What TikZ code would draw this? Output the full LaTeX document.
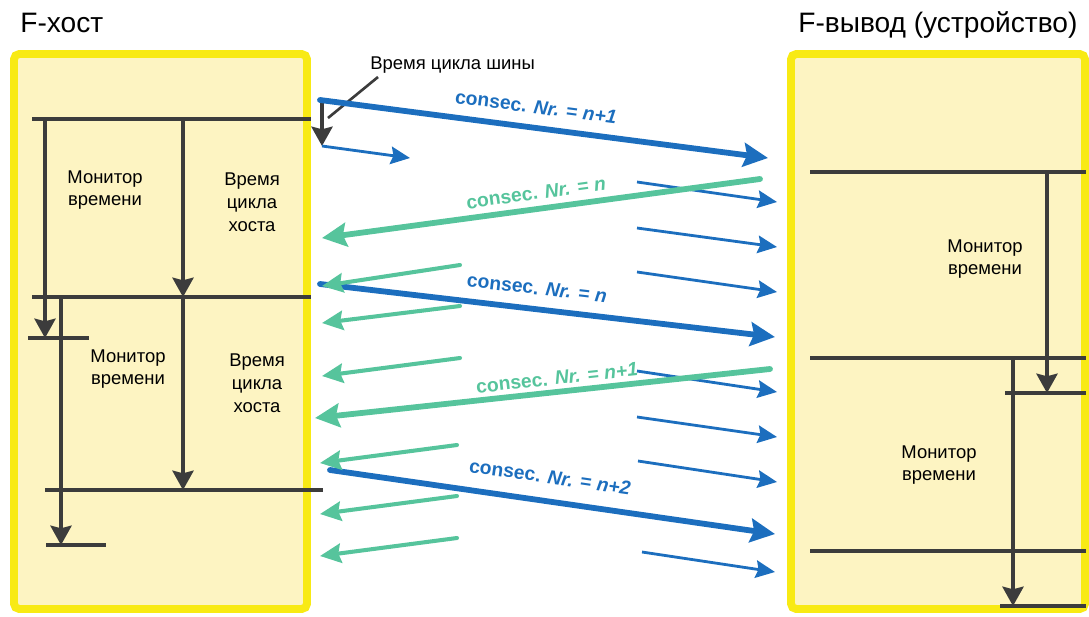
\documentclass[tikz,border=0pt]{standalone}
\usepackage{fontspec}
\setmainfont{Liberation Sans}
\usetikzlibrary{arrows.meta, positioning}
\definecolor{cBus}{RGB}{28,110,190}
\definecolor{cAck}{RGB}{86,196,156}
\definecolor{cLine}{RGB}{60,60,60}
\definecolor{cBoxFill}{RGB}{253,244,194}
\definecolor{cBoxEdge}{RGB}{248,234,20}
\tikzset{
	devbox/.style  ={draw=cBoxEdge, fill=cBoxFill, line width=4.5pt, rounded corners=3pt},
	tline/.style   ={cLine, line width=2.1pt},
	tarrow/.style  ={cLine, line width=2.1pt, -{Stealth[length=11pt, width=12pt, inset=1.5pt]}},
	pointer/.style ={cLine, line width=1.5pt},
	% message arrows
	busthick/.style={cBus, line width=3.3pt, line cap=round, -{Stealth[length=14pt, width=13.5pt, inset=2pt]}},
	busthin/.style ={cBus, line width=1.6pt, -{Stealth[length=11pt, width=10pt, inset=1.5pt]}},
	ackthick/.style={cAck, line width=3.3pt, line cap=round, -{Stealth[length=14pt, width=13.5pt, inset=2pt]}},
	ackthin/.style ={cAck, line width=2.3pt, line cap=round, -{Stealth[length=12pt, width=11pt, inset=1.5pt]}},
	% texts
	boxlabel/.style={align=center, font=\fontsize{10.5}{13}\selectfont, inner sep=0pt},
	msglabel/.style={font=\fontsize{11}{13}\selectfont\bfseries, inner sep=0pt},
	title/.style   ={font=\fontsize{16}{19}\selectfont, inner sep=0pt, anchor=base west},
}
\begin{document}
\begin{tikzpicture}[x=0.02cm, y=-0.02cm]
	\useasboundingbox (0,0) rectangle (1089,616);
	% host and device
	\draw[devbox] (14,54) rectangle (307,609);
	\draw[devbox] (791,54) rectangle (1085,609);
	\node[title] (hosttitle) at (20,32) {F-хост};
	\node[title] (devtitle) at (798,32) {F-вывод (устройство)};
	% host timing
	\coordinate (h1w) at (32,119);  \coordinate (h1e) at (311,119);
	\coordinate (h2w) at (32,297);  \coordinate (h2e) at (311,297);
	\coordinate (h3w) at (45,490);  \coordinate (h3e) at (323,490);
	\coordinate (m1w) at (28,338);  \coordinate (m1e) at (89,338);
	\coordinate (m2w) at (46,545);  \coordinate (m2e) at (106,545);
	\draw[tline] (h1w) -- (h1e);
	\draw[tline] (h2w) -- (h2e);
	\draw[tline] (h3w) -- (h3e);
	\draw[tline] (m1w) -- (m1e);
	\draw[tline] (m2w) -- (m2e);
	\draw[tarrow] (h1w -| 45,0) -- (m1w -| 45,0);
	\draw[tarrow] (h2w -| 61,0) -- (m2w -| 61,0);
	\draw[tarrow] (h1w -| 183,0) -- (h2w -| 183,0);
	\draw[tarrow] (h2w -| 183,0) -- (h3w -| 183,0);
	\node[boxlabel] (hmon1) at (105,190) {Монитор\\времени};
	\node[boxlabel] (hcyc1) at (252,202) {Время\\цикла\\хоста};
	\node[boxlabel] (hmon2) at (128,369) {Монитор\\времени};
	\node[boxlabel] (hcyc2) at (257,383) {Время\\цикла\\хоста};
	% device timing
	\coordinate (d1w) at (810,172);   \coordinate (d1e) at (1086,172);
	\coordinate (d2w) at (810,358);   \coordinate (d2e) at (1086,358);
	\coordinate (d3w) at (810,551);   \coordinate (d3e) at (1086,551);
	\coordinate (n1w) at (1005,393);  \coordinate (n1e) at (1086,393);
	\coordinate (n2w) at (1000,606);  \coordinate (n2e) at (1086,606);
	\draw[tline] (d1w) -- (d1e);
	\draw[tline] (d2w) -- (d2e);
	\draw[tline] (d3w) -- (d3e);
	\draw[tline] (n1w) -- (n1e);
	\draw[tline] (n2w) -- (n2e);
	\draw[tarrow] (d1w -| 1047,0) -- (n1w -| 1047,0);
	\draw[tarrow] (d2w -| 1013,0) -- (n2w -| 1013,0);
	\node[boxlabel] (dmon1) at (985,259) {Монитор\\времени};
	\node[boxlabel] (dmon2) at (939,465) {Монитор\\времени};
	% bus cycle time
	\node[boxlabel, anchor=base west] (bustime) at (370,69) {Время цикла шины};
	\coordinate (bt1) at (322,100);  \coordinate (bt2) at (322,146);
	\coordinate (pt1) at (378,77);   \coordinate (pt2) at (328,118);
	\draw[tarrow] (bt1) -- (bt2);
	\draw[pointer] (pt1) -- (pt2);
	% telegrams host -> device
	\coordinate (o1a) at (320,100);  \coordinate (o1b) at (768,158);
	\coordinate (o2a) at (320,284);  \coordinate (o2b) at (775,337);
	\coordinate (o3a) at (330,470);  \coordinate (o3b) at (775,534);
	\draw[busthick] (o1a) -- (o1b);
	\draw[busthick] (o2a) -- (o2b);
	\draw[busthick] (o3a) -- (o3b);
	\foreach \i/\xa/\ya/\xb/\yb in {1/322/146/410/158, 2/637/182/777/202, 3/637/228/777/247,
		4/637/272/777/292, 5/637/371/777/392, 6/637/417/777/437, 7/638/461/777/482, 8/642/552/775/572}{
		\coordinate (s\i a) at (\xa,\ya);
		\coordinate (s\i b) at (\xb,\yb);
		\draw[busthin] (s\i a) -- (s\i b);
	}
	% telegrams device -> host
	\coordinate (r1a) at (760,179);  \coordinate (r1b) at (322,238);
	\coordinate (r2a) at (770,369);  \coordinate (r2b) at (315,418);
	\draw[ackthick] (r1a) -- (r1b);
	\draw[ackthick] (r2a) -- (r2b);
	\foreach \i/\xa/\ya/\xb/\yb in {1/460/265/322/286, 2/460/306/322/323, 3/460/358/322/376,
		4/457/445/320/463, 5/457/496/320/514, 6/457/538/320/556}{
		\coordinate (a\i a) at (\xa,\ya);
		\coordinate (a\i b) at (\xb,\yb);
		\draw[ackthin] (a\i a) -- (a\i b);
	}
	% sequence numbers
	\node[msglabel, text=cBus, rotate=-7.4] (seq1) at (536,107) {consec. \textit{Nr.} = \textit{n+1}};
	\node[msglabel, text=cAck, rotate=7.8]  (seq2) at (536,193) {consec. \textit{Nr.} = \textit{n}};
	\node[msglabel, text=cBus, rotate=-6.6] (seq3) at (537,288) {consec. \textit{Nr.} = \textit{n}};
	\node[msglabel, text=cAck, rotate=6.2]  (seq4) at (557,378) {consec. \textit{Nr.} = \textit{n+1}};
	\node[msglabel, text=cBus, rotate=-8.2] (seq5) at (550,477) {consec. \textit{Nr.} = \textit{n+2}};
\end{tikzpicture}
\end{document}
